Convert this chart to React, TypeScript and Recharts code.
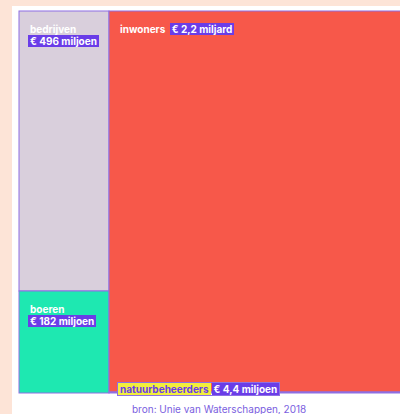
import React from 'react';
import { Treemap } from 'recharts';

const names = ['bedrijven', 'boeren', 'inwoners', 'natuurbeheerders'];
const values = [496, 182, 2200, 4.4];
const valueLabels = ['€ 496 miljoen', '€ 182 miljoen', '€ 2,2 miljard', '€ 4,4 miljoen'];
const sourceText = 'bron: Unie van Waterschappen, 2018';

const data = names.map((name, i) => ({ name, value: values[i] }));

const fills: Record<string, string> = {
  bedrijven: '#d9cfdc',
  boeren: '#1ee8b1',
  inwoners: '#f7584a',
  natuurbeheerders: '#f2ee3c',
};
const PURPLE = '#6a3de8';
const STROKE = '#8e6fe3';
const FONT = 'Inter, "Noto Sans", sans-serif';

function Node(props: any) {
  const { depth, x, y, width, height, name } = props;
  if (depth !== 1 || !name) return <g />;
  const i = names.indexOf(name);
  const small = height < 20;
  const labelH = 12;
  const fy = small ? y + height - labelH - 2 : y + 11.5;
  const nameStyle: React.CSSProperties = small
    ? { background: fills.natuurbeheerders, color: PURPLE, padding: '0 2px' }
    : { color: '#fff', padding: '0 2px' };
  return (
    <g>
      <rect x={x} y={y} width={width} height={height} fill={fills[name]} stroke={STROKE} strokeWidth={1} />
      <foreignObject
        x={x + 9}
        y={fy}
        width={small ? 220 : Math.max(width - 12, 10)}
        height={small ? labelH + 2 : 40}
        style={{ overflow: 'visible' }}
      >
        <div
          style={{
            fontFamily: FONT,
            fontSize: 10,
            fontWeight: 700,
            lineHeight: '12px',
            ...(small ? { display: 'inline-block', outline: `1px solid ${STROKE}`, whiteSpace: 'nowrap' } : {}),
          }}
        >
          <span style={{ whiteSpace: 'nowrap', ...nameStyle }}>{name}</span>
          {small ? null : ' '}
          <span
            style={{
              whiteSpace: 'nowrap',
              background: PURPLE,
              color: '#fff',
              padding: '0 2px',
              marginLeft: small ? 1 : 0,
            }}
          >
            {valueLabels[i]}
          </span>
        </div>
      </foreignObject>
    </g>
  );
}

export default function App() {
  return (
    <div
      style={{
        position: 'fixed',
        left: 0,
        top: 0,
        width: 400,
        height: 414,
        background: '#fde4d7',
        overflow: 'hidden',
      }}
    >
      <style>{`.recharts-surface{overflow:visible}`}</style>
      <div style={{ position: 'absolute', left: 12, top: 6, width: 400, height: 420, background: '#ffffff' }} />
      <div style={{ position: 'absolute', left: 19, top: 11 }}>
        <Treemap
          width={383}
          height={382}
          data={data}
          dataKey="value"
          nameKey="name"
          isAnimationActive={false}
          content={<Node />}
        />
      </div>
      <div
        style={{
          position: 'absolute',
          left: 132,
          top: 403,
          fontFamily: FONT,
          fontSize: 10,
          lineHeight: '12px',
          color: '#7a5ee0',
          whiteSpace: 'nowrap',
        }}
      >
        {sourceText}
      </div>
    </div>
  );
}
